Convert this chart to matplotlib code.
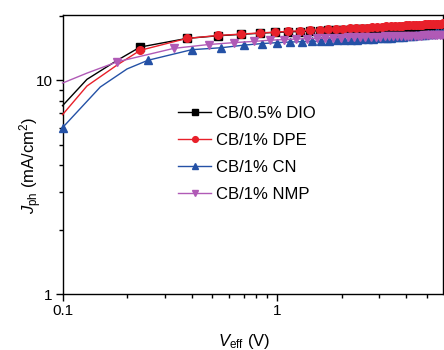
import numpy as np
import matplotlib
matplotlib.use("Agg")
import matplotlib.pyplot as plt
from matplotlib.ticker import LogLocator, FixedLocator, NullFormatter, FixedFormatter

plt.rcParams['font.family'] = ['Liberation Sans', 'DejaVu Sans']
plt.rcParams['mathtext.fontset'] = 'custom'
plt.rcParams['mathtext.rm'] = 'Liberation Sans'
plt.rcParams['mathtext.it'] = 'Liberation Sans:italic'

labels = ["CB/0.5% DIO", "CB/1% DPE", "CB/1% CN", "CB/1% NMP"]
colors = ["#000000", "#e8202a", "#2451a6", "#b05ab6"]
markers = ["s", "o", "^", "v"]

# CB/0.5% DIO
v_dio = [0.10, 0.13, 0.18, 0.23, 0.38, 0.53, 0.68, 0.83, 0.98, 1.13, 1.28, 1.43, 1.58,
         1.73, 1.88, 2.03, 2.18, 2.33, 2.48, 2.63, 2.78, 2.93, 3.08, 3.23, 3.38, 3.53,
         3.68, 3.83, 3.98, 4.13, 4.28, 4.43, 4.58, 4.73, 4.88, 5.03, 5.18, 5.33, 5.48,
         5.63, 5.78, 5.93]
j_dio = [7.6, 10.1, 12.4, 14.3, 15.7, 16.15, 16.4, 16.6, 16.75, 16.85, 16.9, 17.0, 17.05,
         17.1, 17.15, 17.2, 17.25, 17.3, 17.3, 17.35, 17.35, 17.4, 17.4, 17.45, 17.45, 17.5,
         17.5, 17.5, 17.55, 17.55, 17.6, 17.6, 17.6, 17.65, 17.65, 17.7, 17.7, 17.7, 17.75,
         17.75, 17.8, 17.8]
# CB/1% DPE
v_dpe = list(v_dio)
j_dpe = [6.9, 9.4, 11.8, 13.8, 15.7, 16.2, 16.45, 16.65, 16.8, 16.95, 17.05, 17.15, 17.25,
         17.3, 17.4, 17.45, 17.5, 17.55, 17.6, 17.65, 17.7, 17.75, 17.8, 17.85, 17.9, 17.9,
         17.95, 18.0, 18.05, 18.05, 18.1, 18.15, 18.15, 18.2, 18.25, 18.25, 18.3, 18.3, 18.35,
         18.4, 18.4, 18.45]
# CB/1% CN
v_cn = [0.10, 0.15, 0.20, 0.25, 0.40, 0.55, 0.70, 0.85, 1.00, 1.15, 1.30, 1.45, 1.60,
        1.75, 1.90, 2.05, 2.20, 2.35, 2.50, 2.65, 2.80, 2.95, 3.10, 3.25, 3.40, 3.55,
        3.70, 3.85, 4.00, 4.15, 4.30, 4.45, 4.60, 4.75, 4.90, 5.05, 5.20, 5.35, 5.50,
        5.65, 5.80, 5.95]
j_cn = [6.0, 9.3, 11.3, 12.4, 13.9, 14.2, 14.6, 14.85, 15.0, 15.1, 15.15, 15.2, 15.25,
        15.3, 15.35, 15.4, 15.45, 15.5, 15.55, 15.6, 15.65, 15.7, 15.75, 15.8, 15.85, 15.9,
        15.95, 16.0, 16.05, 16.1, 16.15, 16.2, 16.25, 16.3, 16.35, 16.4, 16.45, 16.5, 16.55,
        16.6, 16.65, 16.7]
# CB/1% NMP
v_nmp = [0.10, 0.13, 0.18, 0.33, 0.48, 0.63, 0.78, 0.93, 1.08, 1.23, 1.38, 1.53, 1.68,
         1.83, 1.98, 2.13, 2.28, 2.43, 2.58, 2.73, 2.88, 3.03, 3.18, 3.33, 3.48, 3.63,
         3.78, 3.93, 4.08, 4.23, 4.38, 4.53, 4.68, 4.83, 4.98, 5.13, 5.28, 5.43, 5.58,
         5.73, 5.88]
j_nmp = [9.7, 10.8, 12.2, 14.1, 14.7, 15.0, 15.2, 15.4, 15.5, 15.6, 15.65, 15.7, 15.75,
         15.8, 15.85, 15.9, 15.9, 15.95, 15.95, 16.0, 16.0, 16.0, 16.05, 16.05, 16.05, 16.1,
         16.1, 16.1, 16.1, 16.15, 16.15, 16.15, 16.15, 16.2, 16.2, 16.2, 16.2, 16.2, 16.25,
         16.25, 16.25]

series = [(v_dio, j_dio), (v_dpe, j_dpe), (v_cn, j_cn), (v_nmp, j_nmp)]
mark_idx = [list(range(3, len(v_dio))), list(range(3, len(v_dpe))),
            [0] + list(range(3, len(v_cn))), list(range(2, len(v_nmp)))]

fig = plt.figure(figsize=(4.44, 3.5), dpi=100)
ax = fig.add_axes([62.5/444, 56/350, 380/444, 279/350])

for (v, j), lab, c, m, me in zip(series, labels, colors, markers, mark_idx):
    ax.plot(v, j, color=c, lw=1.0, marker=m, markersize=5.5, markevery=me,
            label=lab, clip_on=False, zorder=3)

ax.set_xscale('log')
ax.set_yscale('log')
ax.set_xlim(0.1, 5.9)
ax.set_ylim(1, 20.2)

ax.xaxis.set_major_locator(FixedLocator([0.1, 1]))
ax.xaxis.set_major_formatter(FixedFormatter(["0.1", "1"]))
ax.xaxis.set_minor_locator(LogLocator(base=10, subs=np.arange(2, 10)))
ax.xaxis.set_minor_formatter(NullFormatter())
ax.yaxis.set_major_locator(FixedLocator([1, 10]))
ax.yaxis.set_major_formatter(FixedFormatter(["1", "10"]))
ax.yaxis.set_minor_locator(LogLocator(base=10, subs=np.arange(2, 10)))
ax.yaxis.set_minor_formatter(NullFormatter())

ax.tick_params(which='major', direction='out', length=5, width=1, labelsize=11, pad=2)
ax.tick_params(which='minor', direction='out', length=3, width=1)
for s in ax.spines.values():
    s.set_linewidth(1.0)

ax.set_xlabel(r'$V_{\mathrm{eff}}$ (V)', fontsize=12)
ax.set_ylabel(r'$J_{\mathrm{ph}}$ (mA/cm$^2$)', fontsize=12)
ax.xaxis.set_label_coords(0.478, -0.136)
ax.yaxis.set_label_coords(-0.05, 0.46)

leg = ax.legend(loc='upper left', bbox_to_anchor=(178/444, 1 - 106/350),
                bbox_transform=fig.transFigure, frameon=False, fontsize=12,
                handlelength=2.0, handletextpad=0.25, labelspacing=0.72,
                borderpad=0, borderaxespad=0, markerscale=0.75)

fig.savefig("out.png", dpi=100)
